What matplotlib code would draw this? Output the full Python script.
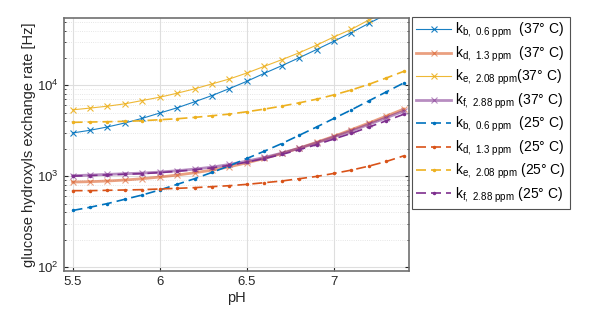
import numpy as np
import matplotlib
matplotlib.use('Agg')
from matplotlib import pyplot as plt
from matplotlib.ticker import LogLocator, NullFormatter

ph = [5.5, 5.6, 5.7, 5.8, 5.9, 6.0, 6.1, 6.2, 6.3, 6.4,
      6.5, 6.6, 6.7, 6.8, 6.9, 7.0, 7.1, 7.2, 7.3, 7.4]

# 37 C
kb37 = [2990, 3200, 3480, 3850, 4330, 4950, 5650, 6580, 7710, 9200,
        11060, 13530, 16400, 20060, 24720, 30570, 37960, 47980, 60000, 75000]
kd37 = [863, 871, 886, 908, 939, 979, 1030, 1092, 1167, 1270,
        1405, 1567, 1778, 2032, 2362, 2748, 3251, 3845, 4583, 5470]
ke37 = [5370, 5610, 5890, 6250, 6800, 7390, 8180, 9130, 10350, 11730,
        13640, 16140, 19090, 22770, 27620, 34060, 41300, 52260, 65000, 80000]
kf37 = [1013, 1030, 1047, 1065, 1083, 1111, 1149, 1197, 1259, 1347,
        1465, 1607, 1792, 2032, 2324, 2703, 3144, 3717, 4396, 5200]

# 25 C
kb25 = [420, 456, 500, 558, 622, 706, 814, 939, 1102, 1303,
        1567, 1884, 2285, 2818, 3476, 4324, 5370, 6745, 8460, 10600]
kd25 = [694, 694, 700, 706, 712, 724, 736, 749, 768, 787,
        814, 849, 886, 939, 995, 1074, 1168, 1292, 1453, 1675]
ke25 = [3910, 3945, 3975, 4010, 4075, 4180, 4285, 4435, 4625, 4820,
        5115, 5470, 5895, 6410, 7030, 7840, 8890, 10250, 12030, 14220]
kf25 = [1003, 1018, 1034, 1050, 1068, 1095, 1132, 1178, 1236, 1318,
        1430, 1562, 1735, 1955, 2225, 2570, 2960, 3470, 4070, 4800]

labels37 = [r'k$_{\mathrm{b,\ 0.6\ ppm}}$  (37° C)',
            r'k$_{\mathrm{d,\ 1.3\ ppm}}$  (37° C)',
            r'k$_{\mathrm{e,\ 2.08\ ppm}}$(37° C)',
            r'k$_{\mathrm{f,\ 2.88\ ppm}}$ (37° C)']
labels25 = [r'k$_{\mathrm{b,\ 0.6\ ppm}}$  (25° C)',
            r'k$_{\mathrm{d,\ 1.3\ ppm}}$  (25° C)',
            r'k$_{\mathrm{e,\ 2.08\ ppm}}$ (25° C)',
            r'k$_{\mathrm{f,\ 2.88\ ppm}}$ (25° C)']

colors = ['#0072BD', '#D95319', '#EDB120', '#7E2F8E']

plt.rcParams['font.family'] = ['Liberation Sans', 'DejaVu Sans']
plt.rcParams['mathtext.fontset'] = 'custom'
plt.rcParams['mathtext.rm'] = 'Liberation Sans'

fig = plt.figure(figsize=(5.91, 3.26), dpi=100)
ax = fig.add_axes([0.108, 0.169, 0.584, 0.776])

sets37 = [kb37, kd37, ke37, kf37]
styles37 = [(0.8, 0.9), (2.0, 0.55), (0.8, 0.9), (2.0, 0.55)]
for y, c, lab, (lw, al) in zip(sets37, colors, labels37, styles37):
    ax.plot(ph, y, '-', color=c, lw=lw, alpha=al, marker='x', ms=5,
            mew=0.8, label=lab)

for y, c, lab in zip([kb25, kd25, ke25, kf25], colors, labels25):
    ax.plot(ph, y, '--', color=c, lw=1.2, marker='.', ms=3,
            dashes=(6, 3), label=lab)

ax.set_yscale('log')
ax.set_xlim(5.45, 7.43)
ax.set_ylim(91, 55000)
ax.set_xticks([5.5, 6, 6.5, 7])
ax.set_xticklabels(['5.5', '6', '6.5', '7'])
ax.yaxis.set_major_locator(LogLocator(base=10, numticks=10))
ax.yaxis.set_minor_locator(LogLocator(base=10, subs=np.arange(2, 10), numticks=10))
ax.yaxis.set_minor_formatter(NullFormatter())
ax.tick_params(direction='in', which='both', colors='#262626', labelsize=9.5,
               top=False, right=True)
ax.tick_params(which='major', length=3)
ax.tick_params(which='minor', length=1.5)
ax.grid(True, which='major', color='#dedede', lw=0.8)
ax.grid(True, which='minor', axis='y', color='#dedede', lw=0.6, ls=':')
for s in ax.spines.values():
    s.set_color('#707070')
    s.set_linewidth(1.2)
ax.set_xlabel('pH', fontsize=10.5, color='#262626', labelpad=2)
ax.set_ylabel('glucose hydroxyls exchange rate [Hz]', fontsize=10.5,
              color='#262626', labelpad=1)

leg = ax.legend(loc='upper left', bbox_to_anchor=(412 / 591, 1 - 17 / 326),
                bbox_transform=fig.transFigure, fontsize=10, frameon=True,
                fancybox=False, edgecolor='#262626', borderaxespad=0,
                handlelength=2.5, handletextpad=0.3, labelspacing=0.3,
                borderpad=0.3)
leg.get_frame().set_linewidth(0.8)

plt.savefig('out.png', dpi=100)
